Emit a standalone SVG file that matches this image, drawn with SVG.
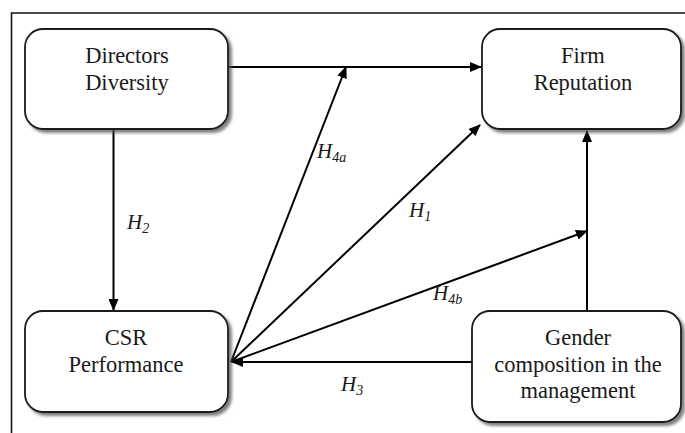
<svg xmlns="http://www.w3.org/2000/svg" width="685" height="433" viewBox="0 0 685 433">
  <style>
    .box { fill: #fff; stroke: #1a1a1a; stroke-width: 1.8; filter: url(#shadow); }
    text { font-family: "Liberation Serif", "Times New Roman", serif; fill: #1a1a1a; }
    .lbl { font-size: 22.5px; text-anchor: middle; }
    .hyp { font-size: 21px; font-style: italic; }
    .sub { font-size: 14px; }
    .edge { stroke: #000; stroke-width: 2; fill: none; }
    .arr { marker-end: url(#head); }
  </style>
  <defs>
    <filter id="shadow" x="-10%" y="-10%" width="125%" height="130%">
      <feDropShadow dx="3" dy="3" stdDeviation="1.6" flood-color="#555" flood-opacity="0.75"/>
    </filter>
    <marker id="head" viewBox="0 0 12 10" refX="11" refY="5" markerWidth="12" markerHeight="10" markerUnits="userSpaceOnUse" orient="auto">
      <path d="M0,0 L12,5 L0,10 Z" fill="#000"/>
    </marker>
  </defs>

  <rect width="685" height="433" fill="#fff"/>
  <!-- outer frame -->
  <path d="M11.5,433 V13 H685" fill="none" stroke="#111" stroke-width="1.6"/>

  <!-- connectors -->
  <g id="connectors">
    <line class="edge arr" x1="229" y1="67" x2="481" y2="67"/>
    <line class="edge arr" x1="113.5" y1="129" x2="113.5" y2="310"/>
    <line class="edge arr" x1="231" y1="362" x2="346" y2="67"/>
    <line class="edge arr" x1="231" y1="362" x2="480" y2="125"/>
    <line class="edge arr" x1="231" y1="362" x2="587" y2="231"/>
    <line class="edge arr" x1="472" y1="362" x2="232" y2="362"/>
    <line class="edge arr" x1="587" y1="312" x2="587" y2="131"/>
  </g>

  <!-- hypothesis labels -->
  <g id="labels">
    <text class="hyp" x="317" y="158">H<tspan class="sub" dy="4">4a</tspan></text>
    <text class="hyp" x="409" y="217">H<tspan class="sub" dy="4">1</tspan></text>
    <text class="hyp" x="127" y="229">H<tspan class="sub" dy="4">2</tspan></text>
    <text class="hyp" x="433" y="300">H<tspan class="sub" dy="4">4b</tspan></text>
    <text class="hyp" x="341" y="391">H<tspan class="sub" dy="4">3</tspan></text>
  </g>

  <g id="directors-diversity">
    <rect class="box" x="25" y="29" width="203" height="100" rx="18"/>
    <text class="lbl" x="127" y="63">Directors</text>
    <text class="lbl" x="127" y="90">Diversity</text>
  </g>

  <g id="firm-reputation">
    <rect class="box" x="482" y="29" width="199" height="100" rx="18"/>
    <text class="lbl" x="583" y="63">Firm</text>
    <text class="lbl" x="583" y="90">Reputation</text>
  </g>

  <g id="csr-performance">
    <rect class="box" x="25" y="311" width="203" height="101" rx="18"/>
    <text class="lbl" x="126" y="345">CSR</text>
    <text class="lbl" x="126" y="372">Performance</text>
  </g>

  <g id="gender-composition">
    <rect class="box" x="472" y="311" width="209" height="111" rx="18"/>
    <text class="lbl" x="578" y="345">Gender</text>
    <text class="lbl" x="578" y="372">composition in the</text>
    <text class="lbl" x="578" y="398">management</text>
  </g>
</svg>
